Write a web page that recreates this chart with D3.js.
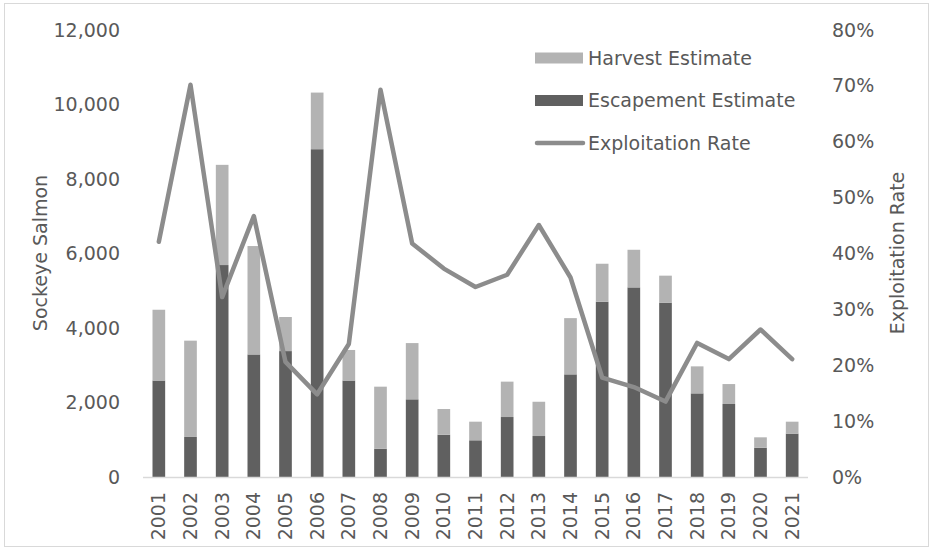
<!DOCTYPE html>
<html>
<head>
<meta charset="utf-8">
<script src="https://cdn.jsdelivr.net/npm/d3@7"></script>
<style>
  body { margin: 0; background: #fff; }
  text { font-family: "DejaVu Sans", sans-serif; fill: #595959; }
</style>
</head>
<body>
<svg width="931" height="550"></svg>
<script>
// data
const years = ["2001","2002","2003","2004","2005","2006","2007","2008","2009","2010","2011",
               "2012","2013","2014","2015","2016","2017","2018","2019","2020","2021"]
const escapement = [2590, 1075, 5690, 3290, 3380, 8800, 2590, 760, 2085, 1135, 985,
                    1610, 1100, 2755, 4705, 5090, 4680, 2245, 1960, 785, 1165]
const harvest = [1900, 2585, 2690, 2910, 915, 1520, 820, 1665, 1510, 690, 500,
                 950, 920, 1510, 1020, 1010, 725, 725, 535, 280, 320]
const exploitation = [0.421, 0.702, 0.322, 0.467, 0.206, 0.148, 0.238, 0.693, 0.418, 0.373, 0.340,
                      0.362, 0.451, 0.357, 0.178, 0.161, 0.135, 0.240, 0.211, 0.264, 0.211]
const leftTicks = [0, 2000, 4000, 6000, 8000, 10000, 12000]
const rightTicks = [0, 0.1, 0.2, 0.3, 0.4, 0.5, 0.6, 0.7, 0.8]

const colHarvest = "#b3b3b3"
const colEscape = "#606060"
const colLine = "#8c8c8c"
const fontSize = 19

const svg = d3.select("svg")

// outer chart border
svg.append("rect")
  .attr("x", 4.5).attr("y", 3.5)
  .attr("width", 924).attr("height", 543)
  .attr("fill", "none").attr("stroke", "#d9d9d9")

const plot = { left: 143, right: 808, top: 30, bottom: 477 }

const x = d3.scaleBand().domain(years).range([plot.left, plot.right]).paddingInner(0.6).paddingOuter(0.3)
const y = d3.scaleLinear().domain([0, 12000]).range([plot.bottom, plot.top])
const yr = d3.scaleLinear().domain([0, 0.8]).range([plot.bottom, plot.top])

// stacked bars: escapement on the bottom, harvest above
const rows = years.map((yr, i) => ({ year: yr, escapement: escapement[i], harvest: harvest[i] }))
const stack = d3.stack().keys(["escapement", "harvest"])(rows)
const colors = { escapement: colEscape, harvest: colHarvest }

svg.append("g").selectAll("g")
  .data(stack)
  .join("g")
    .attr("fill", d => colors[d.key])
  .selectAll("rect")
  .data(d => d)
  .join("rect")
    .attr("x", d => x(d.data.year))
    .attr("width", x.bandwidth())
    .attr("y", d => y(d[1]))
    .attr("height", d => y(d[0]) - y(d[1]))

// baseline
svg.append("line")
  .attr("x1", plot.left).attr("x2", plot.right)
  .attr("y1", plot.bottom + 0.5).attr("y2", plot.bottom + 0.5)
  .attr("stroke", "#d9d9d9").attr("stroke-width", 1.5)

// exploitation line
const line = d3.line()
  .x((d, i) => x(years[i]) + x.bandwidth() / 2)
  .y(d => yr(d))

svg.append("path")
  .datum(exploitation)
  .attr("d", line)
  .attr("fill", "none")
  .attr("stroke", colLine)
  .attr("stroke-width", 4.5)
  .attr("stroke-linejoin", "round")
  .attr("stroke-linecap", "round")

// left axis
const leftAxis = svg.append("g")
  .attr("transform", `translate(${plot.left - 23},0)`)
  .call(d3.axisLeft(y).tickValues(leftTicks).tickSize(0).tickPadding(0).tickFormat(d3.format(",")))
leftAxis.select(".domain").remove()
leftAxis.selectAll("text").attr("font-size", fontSize).style("font-family", "DejaVu Sans").attr("fill", "#595959")

// right axis
const rightAxis = svg.append("g")
  .attr("transform", `translate(${plot.right + 24},0)`)
  .call(d3.axisRight(yr).tickValues(rightTicks).tickSize(0).tickPadding(0).tickFormat(d3.format(".0%")))
rightAxis.select(".domain").remove()
rightAxis.selectAll("text").attr("font-size", fontSize).style("font-family", "DejaVu Sans").attr("fill", "#595959")

// x axis, rotated year labels
const xAxis = svg.append("g")
  .attr("transform", `translate(0,${plot.bottom})`)
  .call(d3.axisBottom(x).tickSize(0))
xAxis.select(".domain").remove()
xAxis.selectAll("text")
  .attr("font-size", fontSize).style("font-family", "DejaVu Sans").attr("fill", "#595959")
  .attr("transform", "rotate(-90)")
  .attr("text-anchor", "end")
  .attr("x", -15).attr("y", 0).attr("dy", "0.35em")

// axis titles
svg.append("text")
  .attr("transform", "translate(40,253) rotate(-90)")
  .attr("text-anchor", "middle").attr("dy", "0.35em")
  .attr("font-size", fontSize)
  .text("Sockeye Salmon")

svg.append("text")
  .attr("transform", "translate(897,253) rotate(-90)")
  .attr("text-anchor", "middle").attr("dy", "0.35em")
  .attr("font-size", fontSize)
  .text("Exploitation Rate")

// legend
const legendItems = [
  { label: "Harvest Estimate", type: "rect", color: colHarvest },
  { label: "Escapement Estimate", type: "rect", color: colEscape },
  { label: "Exploitation Rate", type: "line", color: colLine }
]
const legend = svg.append("g").attr("transform", "translate(535,58)")
const li = legend.selectAll("g")
  .data(legendItems)
  .join("g")
    .attr("transform", (d, i) => `translate(0,${i * 42.5})`)
li.filter(d => d.type === "rect").append("rect")
  .attr("x", 0).attr("y", -5.5).attr("width", 48).attr("height", 11)
  .attr("fill", d => d.color)
li.filter(d => d.type === "line").append("line")
  .attr("x1", 2).attr("x2", 48).attr("y1", 0).attr("y2", 0)
  .attr("stroke", d => d.color).attr("stroke-width", 4.5).attr("stroke-linecap", "round")
li.append("text")
  .attr("x", 53).attr("dy", "0.35em")
  .attr("font-size", fontSize)
  .text(d => d.label)
</script>
</body>
</html>
